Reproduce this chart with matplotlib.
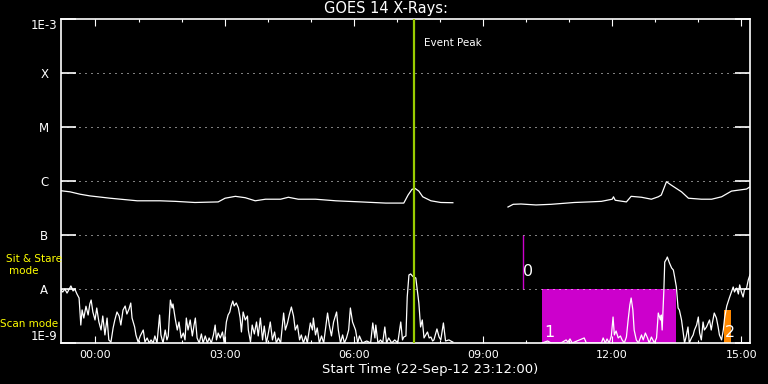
import matplotlib
matplotlib.use('Agg')
import matplotlib.pyplot as plt
import matplotlib.transforms as mtransforms
from matplotlib.ticker import NullLocator
import numpy as np

# GOES 14 x-ray flux, time in hours from 00:00 (plot starts 22-Sep-12 23:12 = -0.8 h)
# long channel (1-8 A), flux in units of 1e-7 W/m^2
long_t = [-0.80, -0.59, -0.36, -0.13, 0.34, 0.97, 1.50, 1.85, 2.31, 2.85,
          3.01, 3.25, 3.48, 3.71, 3.95, 4.30, 4.48, 4.71, 5.11, 5.58,
          6.16, 6.74, 7.16, 7.26, 7.35, 7.42, 7.51, 7.60, 7.79, 8.02,
          8.30, 8.31, 9.58, 9.70, 9.88, 10.23, 10.58, 11.12, 11.47, 11.75,
          12.00, 12.03, 12.07, 12.33, 12.44, 12.68, 12.91, 13.07, 13.14, 13.26,
          13.37, 13.61, 13.77, 14.07, 14.31, 14.54, 14.77, 15.12, 15.24]
long_val = [6.6, 6.3, 5.7, 5.3, 4.8, 4.3, 4.3, 4.2, 4.0, 4.1,
            4.8, 5.2, 4.9, 4.3, 4.6, 4.6, 5.0, 4.6, 4.6, 4.3,
            4.1, 3.9, 3.9, 5.5, 7.0, 7.3, 6.5, 5.1, 4.3, 4.0,
            3.96, np.nan, 3.3, 3.7, 3.75, 3.6, 3.7, 4.0, 4.1, 4.2,
            4.6, 5.1, 4.4, 4.1, 5.2, 5.0, 4.6, 5.1, 5.5, 9.7,
            8.4, 6.3, 4.8, 4.6, 4.6, 5.1, 6.5, 7.1, 8.2]

# short channel (0.5-4 A), flux in units of 1e-9 W/m^2
short_t = [-0.80, -0.76, -0.71, -0.66, -0.62, -0.57, -0.52, -0.48, -0.43, -0.38,
           -0.34, -0.31, -0.27, -0.22, -0.17, -0.13, -0.10, -0.06, -0.01, 0.03,
           0.08, 0.13, 0.17, 0.22, 0.27, 0.31, 0.36, 0.41, 0.45, 0.50,
           0.55, 0.59, 0.64, 0.69, 0.73, 0.78, 0.82, 0.85, 0.91, 0.94,
           0.99, 1.04, 1.11, 1.15, 1.20, 1.25, 1.29, 1.34, 1.38, 1.43,
           1.49, 1.52, 1.57, 1.62, 1.66, 1.69, 1.74, 1.78, 1.80, 1.85,
           1.90, 1.94, 1.99, 2.04, 2.08, 2.11, 2.15, 2.20, 2.25, 2.29,
           2.32, 2.36, 2.41, 2.46, 2.50, 2.55, 2.60, 2.64, 2.69, 2.74,
           2.78, 2.81, 2.85, 2.90, 2.95, 2.99, 3.04, 3.08, 3.12, 3.15,
           3.19, 3.22, 3.27, 3.32, 3.36, 3.39, 3.43, 3.48, 3.53, 3.55,
           3.60, 3.64, 3.69, 3.74, 3.78, 3.83, 3.88, 3.92, 3.97, 4.02,
           4.06, 4.11, 4.16, 4.20, 4.25, 4.30, 4.37, 4.41, 4.46, 4.50,
           4.55, 4.60, 4.64, 4.69, 4.74, 4.78, 4.83, 4.88, 4.92, 4.99,
           5.04, 5.06, 5.11, 5.15, 5.20, 5.25, 5.30, 5.34, 5.39, 5.43,
           5.48, 5.53, 5.60, 5.64, 5.69, 5.74, 5.78, 5.83, 5.88, 5.92,
           5.97, 6.04, 6.09, 6.13, 6.20, 6.30, 6.39, 6.44, 6.49, 6.51,
           6.56, 6.62, 6.67, 6.72, 6.76, 6.81, 6.88, 6.95, 7.02, 7.09,
           7.13, 7.16, 7.21, 7.24, 7.28, 7.32, 7.36, 7.39, 7.44, 7.48,
           7.51, 7.53, 7.55, 7.59, 7.63, 7.67, 7.71, 7.75, 7.79, 7.83,
           7.86, 7.93, 7.98, 8.02, 8.08, 8.13, 8.21, 8.25, 8.30,
           8.31,
           10.37, 10.50, 10.58, 10.81, 10.93, 10.97, 11.02, 11.07, 11.35, 11.40,
           11.75, 11.79, 11.84, 11.88, 11.93, 11.98, 12.02, 12.05, 12.09, 12.14,
           12.19, 12.23, 12.28, 12.33, 12.37, 12.41, 12.44, 12.48, 12.51, 12.56,
           12.61, 12.68, 12.72, 12.77, 12.82, 12.86, 12.91, 12.98, 13.03, 13.07,
           13.12, 13.14, 13.16, 13.20, 13.22, 13.26, 13.28, 13.33, 13.38, 13.42,
           13.45, 13.49, 13.53, 13.56, 13.61, 13.65, 13.68, 13.72, 13.76, 13.79,
           13.84, 13.88, 13.91, 13.96, 14.00, 14.03, 14.07, 14.11, 14.14, 14.19,
           14.23, 14.26, 14.30, 14.33, 14.37, 14.42, 14.46, 14.49, 14.54, 14.58,
           14.61, 14.63, 14.66, 14.69, 14.72, 14.77, 14.81, 14.84, 14.89, 14.93,
           14.96, 15.00, 15.04, 15.07, 15.12, 15.16, 15.19, 15.22]
short_val = [9.6, 8.8, 10.0, 8.4, 9.6, 11.4, 9.2, 10.0, 8.1, 6.8,
             2.15, 4.1, 2.9, 4.8, 3.3, 5.3, 6.25, 3.75, 2.67, 4.45,
             2.45, 1.74, 3.16, 1.41, 2.9, 1.14, 1.04, 1.9, 2.67, 3.75,
             3.16, 2.15, 4.08, 4.84, 3.44, 4.26, 5.5, 2.9, 1.98, 1.41,
             1.04, 1.35, 1.74, 1.04, 1.24, 1.0, 1.14, 1.0, 1.35, 1.0,
             3.3, 1.41, 1.0, 1.74, 1.14, 1.35, 6.25, 4.45, 5.28, 2.9,
             1.74, 2.45, 1.24, 1.53, 1.14, 2.9, 1.74, 2.67, 1.35, 2.15,
             2.9, 1.24, 1.0, 1.47, 1.0, 1.35, 1.0, 1.24, 1.0, 1.41,
             2.15, 1.14, 1.53, 1.24, 1.6, 1.0, 2.45, 3.3, 3.75, 4.84,
             5.99, 4.84, 5.51, 4.45, 2.9, 1.6, 3.75, 2.67, 3.16, 1.74,
             1.04, 2.15, 1.47, 2.45, 1.35, 2.9, 1.14, 2.06, 1.0, 1.6,
             2.45, 1.14, 1.6, 1.0, 1.24, 1.0, 3.59, 1.74, 2.35, 3.3,
             4.64, 3.16, 1.74, 2.15, 1.14, 1.41, 1.0, 1.35, 1.0, 2.35,
             1.74, 2.9, 1.41, 1.9, 1.0, 1.35, 1.0, 1.74, 3.59, 2.15,
             1.35, 2.45, 3.75, 1.74, 1.0, 1.41, 1.0, 1.24, 1.74, 4.45,
             2.45, 1.74, 1.0, 1.35, 1.0, 1.09, 1.0, 2.35, 1.24, 2.15,
             1.0, 1.14, 1.0, 1.98, 1.0, 1.24, 1.0, 1.14, 1.0, 2.45,
             1.14, 1.29, 1.35, 7.1, 18.2, 19.0, 17.4, 16.7, 16.0, 8.8,
             5.5, 3.3, 1.98, 2.67, 1.24, 1.41, 1.6, 1.24, 1.29, 1.09,
             1.14, 1.82, 1.29, 1.14, 2.35, 1.09, 1.14, 1.09, 1.04,
             np.nan,
             1.0, 1.09, 1.0, 1.0, 1.14, 1.04, 1.19, 1.0, 1.24, 1.0,
             1.0, 1.24, 1.0, 1.19, 1.0, 1.35, 3.03, 1.41, 1.67, 1.24,
             1.35, 1.14, 1.0, 1.29, 2.67, 5.06, 6.81, 4.08, 1.74, 1.14,
             1.0, 1.41, 1.14, 1.53, 1.24, 1.0, 1.29, 1.0, 1.24, 3.59,
             2.67, 3.3, 1.74, 9.58, 31.6, 35.9, 39.1, 30.3, 24.5, 22.5,
             16.7, 10.9, 4.45, 4.08, 2.67, 1.53, 1.0, 1.35, 1.98, 1.0,
             1.24, 1.41, 1.74, 2.15, 3.03, 1.53, 1.14, 2.45, 1.74, 1.98,
             2.35, 2.67, 1.74, 2.45, 3.59, 2.9, 1.98, 1.41, 1.14, 1.74,
             2.9, 3.59, 4.84, 5.74, 6.81, 8.8, 10.9, 8.8, 10.4, 8.08,
             11.9, 8.8, 7.11, 9.58, 10.4, 14.7, 17.4, 19.8]

event_peak = 7.39
flare_levels = [1e-9, 1e-8, 1e-7, 1e-6, 1e-5, 1e-4, 1e-3]
flare_labels = ['1E-9', 'A', 'B', 'C', 'M', 'X', '1E-3']
hour_ticks = [0, 3, 6, 9, 12, 15]
hour_labels = ['00:00', '03:00', '06:00', '09:00', '12:00', '15:00']
t_start, t_end = -0.8, 15.2

# observation markers: 0 = sit & stare, 1 and 2 = scans
obs0_t, obs0_lo, obs0_hi = 9.94, 1e-8, 1e-7
obs1_t0, obs1_t1, obs1_lo, obs1_hi = 10.37, 13.49, 1e-9, 1e-8
obs2_t0, obs2_t1, obs2_lo, obs2_hi = 14.59, 14.77, 1e-9, 4.1e-9

W, H = 768, 384
fig = plt.figure(figsize=(W / 100, H / 100), dpi=100, facecolor='black')
ax = fig.add_axes([61 / W, 1 - 343 / H, 689 / W, 324 / H], facecolor='black')
ax.set_yscale('log')
ax.set_xlim(t_start, t_end)
ax.set_ylim(flare_levels[0], flare_levels[-1])

# coloured observation bars
ax.fill_between([obs1_t0, obs1_t1], obs1_lo, obs1_hi, color='#cc00cc', lw=0, zorder=1)
ax.fill_between([obs2_t0, obs2_t1], obs2_lo, obs2_hi, color='#ff8800', lw=0, zorder=1)
ax.vlines(obs0_t, obs0_lo, obs0_hi, color='#cc00cc', lw=1.0, zorder=1)

for lev in flare_levels[1:-1]:
    ax.axhline(lev, color='white', lw=0.72, linestyle=(0, (1, 5)), zorder=2)

ax.plot(long_t, np.array(long_val) * 1e-7, color='white', lw=0.9, zorder=3)
ax.plot(short_t, np.array(short_val) * 1e-9, color='white', lw=0.9, zorder=3)

ax.axvline(event_peak, color='#99cc00', lw=1.6, zorder=4)
trans = mtransforms.blended_transform_factory(ax.transData, ax.transAxes)
ax.text(event_peak + 0.25, 0.926, 'Event Peak', transform=trans, color='white',
        fontsize=7.5, ha='left', va='center')

ax.text(obs0_t, 2.1e-8, '0', color='white', fontsize=11.5, ha='left', va='center', zorder=5)
ax.text(obs1_t0 + 0.05, 1.55e-9, '1', color='white', fontsize=11.5, ha='left', va='center', zorder=5)
ax.text(obs2_t0 + 0.02, 1.55e-9, '2', color='white', fontsize=11.5, ha='left', va='center', zorder=5)

# axes / ticks
for sp in ax.spines.values():
    sp.set_color('white')
    sp.set_linewidth(1.2)
ax.set_xticks(hour_ticks)
ax.set_xticklabels(hour_labels)
ax.set_xticks(range(0, 16), minor=True)
ax.set_yticks(flare_levels)
ax.set_yticklabels(flare_labels)
ax.yaxis.set_minor_locator(NullLocator())
ax.tick_params(axis='x', which='major', direction='in', length=5, width=0.8,
               top=True, bottom=True, colors='white', labelsize=8, pad=5)
ax.tick_params(axis='x', which='minor', direction='in', length=2.5, width=0.8,
               top=True, bottom=True, colors='white')
ax.tick_params(axis='y', which='major', direction='in', length=11, width=1.2,
               left=True, right=True, colors='white', labelsize=8.5, pad=12)
ylabs = ax.get_yticklabels()
for lab in ylabs:
    lab.set_horizontalalignment('center')
ylabs[0].set_verticalalignment('bottom')
ylabs[-1].set_verticalalignment('top')

fig.text(385.5 / W, 1 - 9 / H, 'GOES 14 X-Rays:', color='white', fontsize=10.5,
         ha='center', va='center')
fig.text(430 / W, 1 - 370 / H, 'Start Time (22-Sep-12 23:12:00)', color='white',
         fontsize=9.5, ha='center', va='center')
fig.text(34 / W, 1 - 258.5 / H, 'Sit & Stare', color='yellow', fontsize=7.5,
         ha='center', va='center')
fig.text(24 / W, 1 - 271.5 / H, 'mode', color='yellow', fontsize=7.5,
         ha='center', va='center')
fig.text(29 / W, 1 - 324 / H, 'Scan mode', color='yellow', fontsize=7.5,
         ha='center', va='center')

fig.savefig('out.png', dpi=100, facecolor='black')
